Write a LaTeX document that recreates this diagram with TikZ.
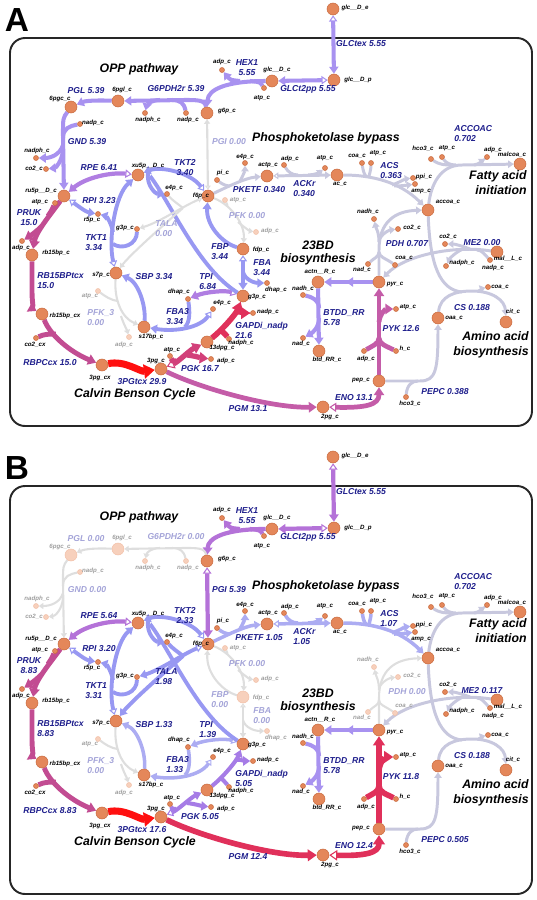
\documentclass[tikz,border=0pt]{standalone}
\usepackage{fontspec}
\newfontfamily\lsans{Liberation Sans}
\usetikzlibrary{arrows.meta,backgrounds}
\definecolor{nodeC}{HTML}{E4875A}
\definecolor{nodeD}{HTML}{C86A3E}
\definecolor{nodeF}{HTML}{F7D0BC}
\definecolor{nodeFD}{HTML}{F2C0A8}
\definecolor{labC}{HTML}{1E1E8C}
\definecolor{labFC}{HTML}{A4A4D8}
\definecolor{cF}{HTML}{DEDEDE}
\definecolor{cG}{HTML}{C8C8DE}
\definecolor{cBl}{HTML}{ACACF2}
\definecolor{cB}{HTML}{9898F2}
\definecolor{cL}{HTML}{A892F0}
\definecolor{cP}{HTML}{B07EE2}
\definecolor{cPl}{HTML}{A67CE6}
\definecolor{cPm}{HTML}{B472D8}
\definecolor{cM}{HTML}{C24C92}
\definecolor{cMl}{HTML}{C45CA8}
\definecolor{cMr}{HTML}{D2407A}
\definecolor{cR}{HTML}{E0305A}
\definecolor{cX}{HTML}{FF1010}
\tikzset{
 mbig/.style={circle, inner sep=0pt, minimum size=0.24cm, fill=nodeC, draw=nodeD, line width=0.3pt},
 mbigF/.style={mbig, fill=nodeF, draw=nodeFD},
 msmall/.style={mbig, minimum size=0.1cm},
 msmallF/.style={mbigF, minimum size=0.1cm},
 mlab/.style={font=\lsans\bfseries\itshape\fontsize{3.5}{4}\selectfont, text=black, inner sep=0pt},
 mlabF/.style={mlab, text=black!38},
 mbigl/.style=mlab, msmalll/.style=mlab, mbigFl/.style=mlabF, msmallFl/.style=mlabF,
 lab/.style={font=\lsans\bfseries\itshape\fontsize{4.9}{5.7}\selectfont, text=labC, inner sep=0pt, align=center},
 labF/.style={lab, text=labFC},
 plab/.style={font=\lsans\bfseries\itshape\fontsize{7}{8.6}\selectfont, text=black, inner sep=0pt, align=center},
 letterst/.style={font=\lsans\bfseries\fontsize{19}{19}\selectfont, inner sep=0pt},
 boxst/.style={draw=black!85, line width=1.1pt, rounded corners=0.3cm},
 sF/.style={draw=cF, line width=1.2pt},
 sG/.style={draw=cG, line width=1.7pt},
 sBl/.style={draw=cBl, line width=2.0pt},
 sB/.style={draw=cB, line width=2.2pt},
 sL/.style={draw=cL, line width=2.3pt},
 sP/.style={draw=cP, line width=2.4pt},
 sPl/.style={draw=cPl, line width=2.3pt},
 sPm/.style={draw=cPm, line width=2.4pt},
 sM/.style={draw=cM, line width=2.8pt},
 sMl/.style={draw=cMl, line width=2.7pt},
 sMr/.style={draw=cMr, line width=3pt},
 sR/.style={draw=cR, line width=3.2pt},
 sX/.style={draw=cX, line width=4pt},
 fw/.style={-{Triangle[length=1pt 1.3,width=1.5pt 1.6]}},
 rv/.style={{Triangle[fill=white,line width=0.6pt,length=1pt 1.1,width=1.5pt 1.4]}-{Triangle[length=1pt 1.3,width=1.5pt 1.6]}},
 rvrev/.style={{Triangle[length=1pt 1.3,width=1.5pt 1.6]}-{Triangle[fill=white,line width=0.6pt,length=1pt 1.1,width=1.5pt 1.4]}},
}
\newcommand\metab[5]{\node[#3] (#1) at (#2) {};\node[#3l] (#1t) at (#4) {#5};}
\newcommand\setA{%
 \def\vPGL{5.39}\def\vGsix{5.39}\def\vGND{5.39}\def\vPGI{0.00}\def\vRPE{6.41}\def\vRPI{3.23}%
 \def\vTKTtwo{3.40}\def\vTKTone{3.34}\def\vTALA{0.00}\def\vPKETF{0.340}\def\vACKr{0.340}\def\vACS{0.363}%
 \def\vPDH{0.707}\def\vMEtwo{0.00}\def\vFBP{3.44}\def\vFBA{3.44}\def\vSBP{3.34}\def\vTPI{6.84}%
 \def\vPRUK{15.0}\def\vRBtcx{15.0}\def\vFBAthree{3.34}\def\vGAPD{21.6}\def\vRBPC{15.0}\def\vTPG{29.9}%
 \def\vPGK{16.7}\def\vPGM{13.1}\def\vENO{13.1}\def\vPYK{12.6}\def\vPEPC{0.388}%
 \tikzset{rGLC/.style=sL, rHEX/.style=sL, rOPP/.style=sL, rPGI/.style=sF, dPGI/.style=rv,
  rRPE/.style=sP, rRPI/.style=sB, rPRUK/.style=sM, r3PG/.style=sX, rPGK/.style=sMr, rGAPD/.style=sR,
  rLOW/.style=sMl, rPYK/.style=sMl, rBTDD/.style=sL, rPDH/.style=sG, rME2/.style=sG,
  rACKr/.style=sG, rPKETF/.style=sG, rFBP/.style=sB, rTPI/.style=sP, rSBP/.style=sB,
  rTKT1/.style=sB, rTKT2/.style=sB, rTALA/.style=sF, rPEPC/.style=sG, rCS/.style=sG, rACCOAC/.style=sG,
  lOPP/.style=lab, lPGI/.style=labF, lTALA/.style=labF, lFBP/.style=lab, lPDH/.style=lab,
  kOPP/.style=mbig, kOPPl/.style=mlab, kOPPs/.style=msmall, kOPPsl/.style=mlab,
  kFBA/.style=mbig, kFBAl/.style=mlab, kFBAs/.style=msmall, kFBAsl/.style=mlab,
  kPDHs/.style=msmall, kPDHsl/.style=mlab}}
\newcommand\setB{%
 \def\vPGL{0.00}\def\vGsix{0.00}\def\vGND{0.00}\def\vPGI{5.39}\def\vRPE{5.64}\def\vRPI{3.20}%
 \def\vTKTtwo{2.33}\def\vTKTone{3.31}\def\vTALA{1.98}\def\vPKETF{1.05}\def\vACKr{1.05}\def\vACS{1.07}%
 \def\vPDH{0.00}\def\vMEtwo{0.117}\def\vFBP{0.00}\def\vFBA{0.00}\def\vSBP{1.33}\def\vTPI{1.39}%
 \def\vPRUK{8.83}\def\vRBtcx{8.83}\def\vFBAthree{1.33}\def\vGAPD{5.05}\def\vRBPC{8.83}\def\vTPG{17.6}%
 \def\vPGK{5.05}\def\vPGM{12.4}\def\vENO{12.4}\def\vPYK{11.8}\def\vPEPC{0.505}%
 \tikzset{rGLC/.style=sPm, rHEX/.style=sPm, rOPP/.style=sF, rPGI/.style=sPm, dPGI/.style=rvrev,
  rRPE/.style=sPm, rRPI/.style=sB, rPRUK/.style=sM, r3PG/.style=sX, rPGK/.style=sPl, rGAPD/.style=sPl,
  rLOW/.style=sR, rPYK/.style=sR, rBTDD/.style=sL, rPDH/.style=sF, rME2/.style=sG,
  rACKr/.style=sBl, rPKETF/.style=sBl, rFBP/.style=sF, rTPI/.style=sBl, rSBP/.style=sBl,
  rTKT1/.style=sB, rTKT2/.style=sB, rTALA/.style=sB, rPEPC/.style=sG, rCS/.style=sG, rACCOAC/.style=sG,
  lOPP/.style=labF, lPGI/.style=lab, lTALA/.style=lab, lFBP/.style=labF, lPDH/.style=labF,
  kOPP/.style=mbigF, kOPPl/.style=mlabF, kOPPs/.style=msmallF, kOPPsl/.style=mlabF,
  kFBA/.style=mbigF, kFBAl/.style=mlabF, kFBAs/.style=msmallF, kFBAsl/.style=mlabF,
  kPDHs/.style=msmallF, kPDHsl/.style=mlabF}}
\newcommand\drawpanel[4]{%
\begin{scope}[shift={(0,#2)}]
 \node[letterst] (#1Let) at (17,20) {#4};
 % big metabolites
 \metab{#1glce}{333,9}{mbig}{355,8}{glc\_\_D\_e}
 \metab{#1glcp}{334,80}{mbig}{358,80}{glc\_\_D\_p}
 \metab{#1glcc}{272,81}{mbig}{277,70}{glc\_\_D\_c}
 \metab{#1g6p}{207,113}{mbig}{227,111}{g6p\_c}
 \metab{#1pgl}{118,101}{kOPP}{122,90}{6pgl\_c}
 \metab{#1pgc}{71,107}{kOPP}{60,99}{6pgc\_c}
 \metab{#1ru5p}{64,196}{mbig}{41,191}{ru5p\_\_D\_c}
 \metab{#1xu5p}{138,175}{mbig}{148,166}{xu5p\_\_D\_c}
 \metab{#1f6p}{208,196}{mbig}{201,196}{f6p\_c}
 \metab{#1actp}{267,176}{mbig}{268,165}{actp\_c}
 \metab{#1ac}{337,175}{mbig}{340,184}{ac\_c}
 \metab{#1accoa}{428,210}{mbig}{448,202}{accoa\_c}
 \metab{#1malcoa}{520,164}{mbig}{512,155}{malcoa\_c}
 \metab{#1fdp}{243,249}{kFBA}{261,250}{fdp\_c}
 \metab{#1rbp}{32,255}{mbig}{56,253}{rb15bp\_c}
 \metab{#1s7p}{116,273}{mbig}{101,275}{s7p\_c}
 \metab{#1g3p}{243,296}{mbig}{257,297}{g3p\_c}
 \metab{#1sbp}{144,327}{mbig}{151,337}{s17bp\_c}
 \metab{#1rbcx}{42,314}{mbig}{65,316}{rb15bp\_cx}
 \metab{#1dpg}{207,342}{mbig}{222,348}{13dpg\_c}
 \metab{#1pgcx}{102,365}{mbig}{100,378}{3pg\_cx}
 \metab{#1pgt}{161,369}{mbig}{156,361}{3pg\_c}
 \metab{#1pgw}{323,407}{mbig}{330,417}{2pg\_c}
 \metab{#1pep}{379,381}{mbig}{361,380}{pep\_c}
 \metab{#1pyr}{379,282}{mbig}{395,284}{pyr\_c}
 \metab{#1actn}{318,282}{mbig}{320,272}{actn\_\_R\_c}
 \metab{#1btd}{319,351}{mbig}{327,360}{btd\_RR\_c}
 \metab{#1mal}{497,252}{mbig}{508,259}{mal\_\_L\_c}
 \metab{#1oaa}{438,318}{mbig}{454,318}{oaa\_c}
 \metab{#1cit}{506,322}{mbig}{513,312}{cit\_c}
 % small metabolites
 \metab{#1adpH}{222,70}{msmall}{222,62}{adp\_c}
 \metab{#1atpH}{264,88}{msmall}{262,98}{atp\_c}
 \metab{#1nadphG}{145,113}{kOPPs}{148,120}{nadph\_c}
 \metab{#1nadpG}{186,113}{kOPPs}{188,120}{nadp\_c}
 \metab{#1nadpD}{80,124}{kOPPs}{93,123}{nadp\_c}
 \metab{#1nadphD}{36,158}{kOPPs}{37,151}{nadph\_c}
 \metab{#1co2D}{46,169}{kOPPs}{34,169}{co2\_c}
 \metab{#1atpP}{55,203}{msmall}{40,202}{atp\_c}
 \metab{#1adpP}{22,241}{msmall}{21,248}{adp\_c}
 \metab{#1r5p}{98,214}{msmall}{92,220}{r5p\_c}
 \metab{#1e4pT}{167,194}{msmall}{174,188}{e4p\_c}
 \metab{#1pi}{217,180}{msmall}{223,173}{pi\_c}
 \metab{#1e4pK}{245,163}{msmall}{245,157}{e4p\_c}
 \metab{#1atpF}{225,200}{msmallF}{238,200}{atp\_c}
 \metab{#1adpF}{256,232}{msmallF}{270,231}{adp\_c}
 \metab{#1g3pT}{137,229}{msmall}{125,228}{g3p\_c}
 \metab{#1dhapF}{267,283}{kFBAs}{276,290}{dhap\_c}
 \metab{#1atpQ}{98,291}{msmallF}{90,296}{atp\_c}
 \metab{#1adpQ}{129,337}{msmallF}{124,345}{adp\_c}
 \metab{#1dhapT}{188,299}{msmall}{179,292}{dhap\_c}
 \metab{#1e4pF}{213,309}{msmall}{222,303}{e4p\_c}
 \metab{#1nadpR}{253,313}{msmall}{268,312}{nadp\_c}
 \metab{#1nadphR}{229,339}{msmall}{241,343}{nadph\_c}
 \metab{#1co2x}{36,338}{msmall}{35,345}{co2\_cx}
 \metab{#1atpK}{170,356}{msmall}{172,350}{atp\_c}
 \metab{#1adpK}{211,359}{msmall}{226,361}{adp\_c}
 \metab{#1adpY}{364,351}{msmall}{366,359}{adp\_c}
 \metab{#1hY}{396,351}{msmall}{405,349}{h\_c}
 \metab{#1atpY}{396,309}{msmall}{408,307}{atp\_c}
 \metab{#1hcoE}{406,397}{msmall}{410,404}{hco3\_c}
 \metab{#1nadhB}{303,295}{msmall}{303,289}{nadh\_c}
 \metab{#1nadB}{303,338}{msmall}{301,344}{nad\_c}
 \metab{#1nadhP}{374,219}{kPDHs}{368,212}{nadh\_c}
 \metab{#1co2P}{398,229}{kPDHs}{412,228}{co2\_c}
 \metab{#1nadP}{368,264}{kPDHs}{362,270}{nad\_c}
 \metab{#1coaP}{395,265}{kPDHs}{404,258}{coa\_c}
 \metab{#1co2M}{445,244}{msmall}{448,237}{co2\_c}
 \metab{#1nadphM}{446,266}{msmall}{462,263}{nadph\_c}
 \metab{#1nadpM}{490,260}{msmall}{493,268}{nadp\_c}
 \metab{#1coaC}{488,287}{msmall}{500,287}{coa\_c}
 \metab{#1adpA}{284,165}{msmall}{290,159}{adp\_c}
 \metab{#1atpA}{325,168}{msmall}{325,158}{atp\_c}
 \metab{#1coaS}{362,163}{msmall}{357,156}{coa\_c}
 \metab{#1atpS}{371,163}{msmall}{378,153}{atp\_c}
 \metab{#1ppi}{413,178}{msmall}{424,177}{ppi\_c}
 \metab{#1amp}{415,184}{msmall}{421,191}{amp\_c}
 \metab{#1hcoA}{431,159}{msmall}{423,149}{hco3\_c}
 \metab{#1atpC}{442,157}{msmall}{447,148}{atp\_c}
 \metab{#1adpC}{487,157}{msmall}{493,150}{adp\_c}
 % reaction labels
 \node[lab] (#1Lgt) at (361,44) {GLCtex 5.55};
 \node[lab] (#1Lgtt) at (308,89) {GLCt2pp 5.55};
 \node[lab] (#1Lhex) at (247,68) {HEX1\\5.55};
 \node[lOPP] (#1Lgsix) at (176,89) {G6PDH2r \vGsix};
 \node[lOPP] (#1Lpgl) at (86,91) {PGL \vPGL};
 \node[lOPP] (#1Lgnd) at (87,142) {GND \vGND};
 \node[lPGI] (#1Lpgi) at (229,142) {PGI \vPGI};
 \node[lab] (#1Lrpe) at (99,168) {RPE \vRPE};
 \node[lab] (#1Lrpi) at (99,201) {RPI \vRPI};
 \node[lab] (#1Ltkttwo) at (185,168) {TKT2\\\vTKTtwo};
 \node[lab,align=left,anchor=west] (#1Ltktone) at (85,243) {TKT1\\\vTKTone};
 \node[lTALA,align=left,anchor=west] (#1Ltala) at (155,229) {TALA\\\vTALA};
 \node[lab] (#1Lpketf) at (259,190) {PKETF \vPKETF};
 \node[labF] (#1Lpfk) at (247,216) {PFK 0.00};
 \node[lab,align=left,anchor=west] (#1Lackr) at (293,189) {ACKr\\\vACKr};
 \node[lab,align=left,anchor=west] (#1Lacs) at (380,171) {ACS\\\vACS};
 \node[lab,align=left,anchor=west] (#1Laccoac) at (454,134) {ACCOAC\\0.702};
 \node[lPDH] (#1Lpdh) at (407,244) {PDH \vPDH};
 \node[lab] (#1Lme) at (482,243) {ME2 \vMEtwo};
 \node[lFBP,align=left,anchor=west] (#1Lfbp) at (211,252) {FBP\\\vFBP};
 \node[lFBP,align=left,anchor=west] (#1Lfba) at (253,268) {FBA\\\vFBA};
 \node[lab] (#1Lsbp) at (154,277) {SBP \vSBP};
 \node[lab,align=left,anchor=west] (#1Ltpi) at (199,282) {TPI\\\vTPI};
 \node[lab] (#1Lpruk) at (29,218) {PRUK\\\vPRUK};
 \node[lab,align=left,anchor=west] (#1Lrb) at (37,281) {RB15BPtcx\\\vRBtcx};
 \node[labF,align=left,anchor=west] (#1Lpfkt) at (87,318) {PFK\_3\\0.00};
 \node[lab,align=left,anchor=west] (#1Lfbat) at (166,317) {FBA3\\\vFBAthree};
 \node[lab,align=left,anchor=west] (#1Lgapd) at (235,330) {GAPDi\_nadp\\\vGAPD};
 \node[lab] (#1Lrbpc) at (50,363) {RBPCcx \vRBPC};
 \node[lab] (#1Ltpg) at (142,382) {3PGtcx \vTPG};
 \node[lab] (#1Lpgk) at (200,369) {PGK \vPGK};
 \node[lab] (#1Lpgm) at (248,409) {PGM \vPGM};
 \node[lab] (#1Leno) at (354,398) {ENO \vENO};
 \node[lab] (#1Lpyk) at (401,329) {PYK \vPYK};
 \node[lab,align=left,anchor=west] (#1Lbtdd) at (323,318) {BTDD\_RR\\5.78};
 \node[lab] (#1Lcs) at (472,308) {CS 0.188};
 \node[lab] (#1Lpepc) at (445,392) {PEPC \vPEPC};
 % pathway labels
 \node[plab] (#1Pa) at (139,69) {OPP pathway};
 \node[plab] (#1Pb) at (326,138) {Phosphoketolase bypass};
 \node[plab,font=\lsans\bfseries\itshape\fontsize{7}{7.4}\selectfont] (#1Pc) at (318,253) {23BD\\biosynthesis};
 \node[plab,align=right,anchor=east] (#1Pd) at (527,183) {Fatty acid\\initiation};
 \node[plab,align=right,anchor=east] (#1Pe) at (529,345) {Amino acid\\biosynthesis};
 \node[plab] (#1Pf) at (135,394) {Calvin Benson Cycle};
 \begin{pgfonlayer}{background}
 \draw[boxst] (10,38) rectangle (532,#3);
 % glucose uptake
 \draw[rGLC,rv] (#1glce) -- (#1glcp);
 \draw[rGLC,rv] (#1glcp) -- (#1glcc);
 % HEX1
 \draw[rHEX,fw] (#1glcc) .. controls (225,81) and (208,90) .. (#1g6p);
 \draw[rHEX] (#1atpH) .. controls (260,82) .. (250,81);
 \draw[rHEX,fw] (240,81) .. controls (230,80) .. (#1adpH);
 % OPP
 \draw[rOPP,fw] (#1g6p) .. controls (205,100) and (198,100) .. (185,100) -- (#1pgl);
 \draw[rOPP] (#1nadpG) .. controls (184,103) and (180,100) .. (172,100);
 \draw[rOPP,fw] (160,100) .. controls (152,100) and (147,104) .. (#1nadphG);
 \draw[rOPP,fw] (#1pgl) .. controls (95,100) and (85,101) .. (#1pgc);
 \draw[rOPP,fw] (#1pgc) .. controls (63,118) .. (63,135) -- (#1ru5p);
 \draw[rOPP] (#1nadpD) .. controls (70,126) and (63,128) .. (63,138);
 \draw[rOPP,fw] (63,145) .. controls (60,155) and (50,158) .. (#1nadphD);
 \draw[rOPP,fw] (63,150) .. controls (62,162) and (55,168) .. (#1co2D);
 % PGI
 \draw[rPGI,dPGI] (#1f6p) -- (#1g6p);
 % RPE RPI
 \draw[rRPE,rv] (#1xu5p) .. controls (110,172) and (85,178) .. (#1ru5p);
 \draw[rRPI,rv] (#1ru5p) .. controls (78,206) and (86,212) .. (#1r5p);
 % PRUK
 \draw[rPRUK,fw] (#1ru5p) .. controls (50,215) and (36,232) .. (#1rbp);
 \draw[rPRUK] (#1atpP) .. controls (52,210) .. (48,216);
 \draw[rPRUK,fw] (42,226) .. controls (36,232) and (30,236) .. (#1adpP);
 \draw[rPRUK,fw] (#1rbp) -- (32,292) .. controls (32,305) and (35,310) .. (#1rbcx);
 \draw[rPRUK,fw] (#1rbcx) .. controls (50,335) and (70,352) .. (#1pgcx);
 \draw[rPRUK] (#1co2x) .. controls (44,334) and (50,334) .. (56,334);
 % 3PGtcx PGK GAPD
 \draw[r3PG,fw] (#1pgcx) .. controls (125,360) and (140,372) .. (#1pgt);
 \draw[rPGK,rv] (#1pgt) .. controls (178,362) and (190,350) .. (#1dpg);
 \draw[rPGK] (#1atpK) .. controls (172,361) .. (176,361);
 \draw[rPGK,fw] (187,355) .. controls (195,356) and (202,358) .. (#1adpK);
 \draw[rGAPD,fw] (#1dpg) .. controls (222,330) and (236,314) .. (#1g3p);
 \draw[rGAPD] (#1nadphR) .. controls (226,335) and (222,331) .. (220,329);
 \draw[rGAPD,fw] (235,312) .. controls (240,311) and (245,313) .. (#1nadpR);
 % lower glycolysis
 \draw[rLOW,fw] (#1pgt) .. controls (200,388) and (270,408) .. (#1pgw);
 \draw[rLOW,rv] (#1pgw) .. controls (365,408) and (379,405) .. (#1pep);
 \draw[rPYK,fw] (#1pep) -- (#1pyr);
 \draw[rPYK] (#1adpY) .. controls (372,346) and (379,344) .. (379,338);
 \draw[rPYK] (#1hY) .. controls (386,346) and (379,344) .. (379,338);
 \draw[rPYK,fw] (379,322) .. controls (380,313) and (386,309) .. (#1atpY);
 % 23BD
 \draw[rBTDD,fw] (#1pyr) -- (346,282);
 \draw[rBTDD,fw] (349,282) -- (#1actn);
 \draw[rBTDD,fw] (#1actn) -- (#1btd);
 \draw[rBTDD] (#1nadhB) .. controls (312,297) and (319,300) .. (319,308);
 \draw[rBTDD,fw] (319,318) .. controls (319,328) and (312,333) .. (#1nadB);
 % PDH
 \draw[rPDH,fw] (#1pyr) -- (379,250) .. controls (379,222) and (395,211) .. (#1accoa);
 \draw[rPDH] (#1nadP) .. controls (374,258) and (379,257) .. (379,252);
 \draw[rPDH] (#1coaP) .. controls (385,258) and (379,257) .. (379,252);
 \draw[rPDH,fw] (379,242) .. controls (379,232) and (376,228) .. (#1nadhP);
 \draw[rPDH,fw] (380,238) .. controls (384,232) and (390,230) .. (#1co2P);
 % ME2
 \draw[rME2,fw] (#1mal) .. controls (455,245) and (405,255) .. (#1pyr);
 \draw[rME2,fw] (470,249) .. controls (462,246) and (455,244) .. (#1co2M);
 \draw[rME2,fw] (463,249) .. controls (456,252) and (450,258) .. (#1nadphM);
 \draw[rME2] (#1nadpM) .. controls (485,255) and (482,250) .. (477,250);
 % ACKr ACS
 \draw[rACKr,rv] (#1actp) -- (#1ac);
 \draw[rACKr] (#1adpA) .. controls (288,172) and (292,175) .. (298,175);
 \draw[rACKr,fw] (308,175) .. controls (315,175) and (320,172) .. (#1atpA);
 \draw[rACKr,fw] (#1ac) .. controls (372,175) and (400,182) .. (#1accoa);
 \draw[rACKr] (#1coaS) .. controls (363,170) and (364,175) .. (367,177);
 \draw[rACKr] (#1atpS) .. controls (371,170) and (369,175) .. (369,177);
 \draw[rACKr,fw] (392,185) .. controls (400,182) and (405,179) .. (#1ppi);
 \draw[rACKr,fw] (394,186) .. controls (402,186) and (408,185) .. (#1amp);
 % PKETF
 \draw[rPKETF,fw] (#1f6p) .. controls (225,188) and (245,178) .. (#1actp);
 \draw[rPKETF] (#1pi) .. controls (222,184) and (226,186) .. (230,186);
 \draw[rPKETF,fw] (240,181) .. controls (243,176) and (245,170) .. (#1e4pK);
 % PFK (inactive)
 \draw[sF,fw] (#1f6p) .. controls (232,205) and (245,225) .. (#1fdp);
 \draw[sF] (#1atpF) .. controls (227,204) and (228,206) .. (227,207);
 \draw[sF,fw] (238,222) .. controls (245,228) and (250,231) .. (#1adpF);
 % FBP FBA TPI
 \draw[rFBP,fw] (#1fdp) .. controls (222,243) and (206,225) .. (#1f6p);
 \draw[rFBP,rv] (#1fdp) -- (#1g3p);
 \draw[rFBP,fw] (243,272) .. controls (245,280) and (255,283) .. (#1dhapF);
 \draw[rTPI,rv] (#1g3p) .. controls (225,290) and (205,292) .. (#1dhapT);
 % FBA3 SBP PFK_3
 \draw[rSBP,rv] (#1e4pF) .. controls (200,328) and (175,332) .. (#1sbp);
 \draw[rSBP] (#1dhapT) .. controls (190,312) and (190,322) .. (185,327);
 \draw[rSBP,fw] (#1sbp) .. controls (146,305) and (138,282) .. (#1s7p);
 \draw[sF,fw] (#1s7p) .. controls (114,300) and (122,318) .. (#1sbp);
 \draw[sF] (#1atpQ) .. controls (105,296) and (110,300) .. (118,301);
 \draw[sF,fw] (121,316) .. controls (124,325) and (127,330) .. (#1adpQ);
 % TKT1
 \draw[rTKT1,rv] (#1s7p) .. controls (108,240) and (115,195) .. (#1xu5p);
 \draw[rTKT1,fw] (113,232) .. controls (111,222) and (106,216) .. (#1r5p);
 \draw[rTKT1] (#1g3pT) .. controls (137,245) and (122,250) .. (113,244);
 % TKT2
 \draw[rTKT2,rv] (#1f6p) .. controls (190,172) and (160,166) .. (#1xu5p);
 \draw[rTKT2,fw] (148,172) .. controls (146,186) and (156,194) .. (#1e4pT);
 \draw[rTKT2] (#1g3p) .. controls (198,268) and (172,205) .. (150,176);
 % TALA
 \draw[rTALA,rv] (#1f6p) .. controls (185,205) and (160,222) .. (#1g3pT);
 \draw[rTALA,fw] (183,208) .. controls (160,228) and (130,255) .. (#1s7p);
 \draw[rTALA] (#1e4pT) .. controls (172,200) and (178,204) .. (183,208);
 % PEPC CS ACCOAC
 \draw[rPEPC,fw] (#1pep) -- (420,381) .. controls (436,381) and (438,370) .. (#1oaa);
 \draw[rPEPC] (#1hcoE) .. controls (407,385) and (412,381) .. (418,381);
 \draw[rCS,fw] (#1oaa) .. controls (440,296) and (455,291) .. (472,291) .. controls (492,291) and (505,300) .. (#1cit);
 \draw[rCS] (#1accoa) .. controls (430,265) and (440,290) .. (462,292);
 \draw[rCS,fw] (478,291) .. controls (482,290) and (484,288) .. (#1coaC);
 \draw[rACCOAC,fw] (#1accoa) .. controls (431,185) and (440,165) .. (462,165) -- (#1malcoa);
 \draw[rACCOAC] (#1hcoA) .. controls (440,165) and (445,165) .. (452,165);
 \draw[rACCOAC] (#1atpC) .. controls (446,163) and (450,165) .. (456,165);
 \draw[rACCOAC,fw] (474,165) .. controls (480,164) and (483,160) .. (#1adpC);
 \end{pgfonlayer}
\end{scope}}
\begin{document}
\begin{tikzpicture}[x=0.02cm,y=-0.02cm]
\path[use as bounding box] (0,0) rectangle (537,900);
\setA
\drawpanel{A}{0}{426}{A}
\setB
\drawpanel{B}{448}{446}{B}
\end{tikzpicture}
\end{document}
